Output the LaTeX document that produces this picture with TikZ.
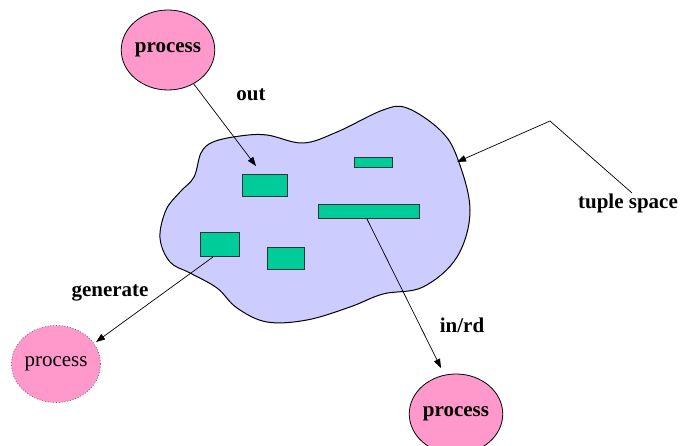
\documentclass[tikz,border=0pt]{standalone}
\usepackage{fontspec}
\setmainfont{Liberation Serif}
\usetikzlibrary{shapes.geometric,arrows.meta}
\definecolor{procpink}{HTML}{FF99CC}
\definecolor{spacelav}{HTML}{CCCCFF}
\definecolor{tuplegreen}{HTML}{00CC99}
\tikzset{
  proc/.style={ellipse, fill=procpink, draw=black, line width=0.8pt, minimum width=88pt, minimum height=80pt, inner sep=0pt, font=\fontsize{21}{23}\selectfont\bfseries},
  procgen/.style={ellipse, fill=procpink, draw=black!60, dotted, line width=0.8pt, minimum width=88pt, minimum height=77pt, inner sep=0pt, font=\fontsize{21}{23}\selectfont},
  tuple/.style={rectangle, fill=tuplegreen, draw=black!80, line width=0.8pt, inner sep=0pt, anchor=north west},
  lbl/.style={font=\fontsize{21}{23}\selectfont\bfseries, inner sep=0pt},
  conn/.style={line width=0.7pt, -{Triangle[length=9pt,width=6.5pt]}}
}
\begin{document}
\begin{tikzpicture}[x=1pt,y=-1pt]
\useasboundingbox (0,0) rectangle (683,446);
% tuple space blob
\draw[fill=spacelav, line width=1pt] plot[smooth cycle, tension=0.6] coordinates {
 (160,238) (166,210) (180,192) (194,177) (201,153) (213,142) (240,136) (267,135)
 (303,143) (337,132) (383,110) (407,108) (440,130) (457,157) (470,210)
 (457,257) (423,287) (383,294) (350,307) (307,320) (267,322) (237,308)
 (217,288) (190,273) (170,262)};
% tuples
\node[tuple, minimum width=45pt, minimum height=22pt] (r1) at (242,174) {};
\node[tuple, minimum width=38pt, minimum height=10pt] (r2) at (354,157) {};
\node[tuple, minimum width=101pt, minimum height=14pt] (r3) at (318,204) {};
\node[tuple, minimum width=39pt, minimum height=24pt] (r4) at (200,232) {};
\node[tuple, minimum width=37pt, minimum height=22pt] (r5) at (267,247) {};
% processes
\node[proc] (ptop) at (168,50) {process};
\node[procgen] (pgen) at (56,364) {process};
\node[proc] (pbot) at (456,414) {process};
% labels
\node[lbl] (lout) at (251,95) {out};
\node[lbl] (lgen) at (110,293) {generate};
\node[lbl] (lin) at (462,325) {in/rd};
\node[lbl] (lts) at (628,203) {tuple space};
% connector end points
\coordinate (outend) at (256,166);
\coordinate (genstart) at (213,257);
\coordinate (genend) at (96,342);
\coordinate (instart) at (367,219);
\coordinate (inend) at (441,368);
\coordinate (tsstart) at (632,193);
\coordinate (tsbend) at (550,121);
\coordinate (tsend) at (457,162);
% connectors
\draw[conn] (ptop) -- (outend);
\draw[conn] (genstart) -- (genend);
\draw[conn] (instart) -- (inend);
\draw[conn] (tsstart) -- (tsbend) -- (tsend);
\end{tikzpicture}
\end{document}
